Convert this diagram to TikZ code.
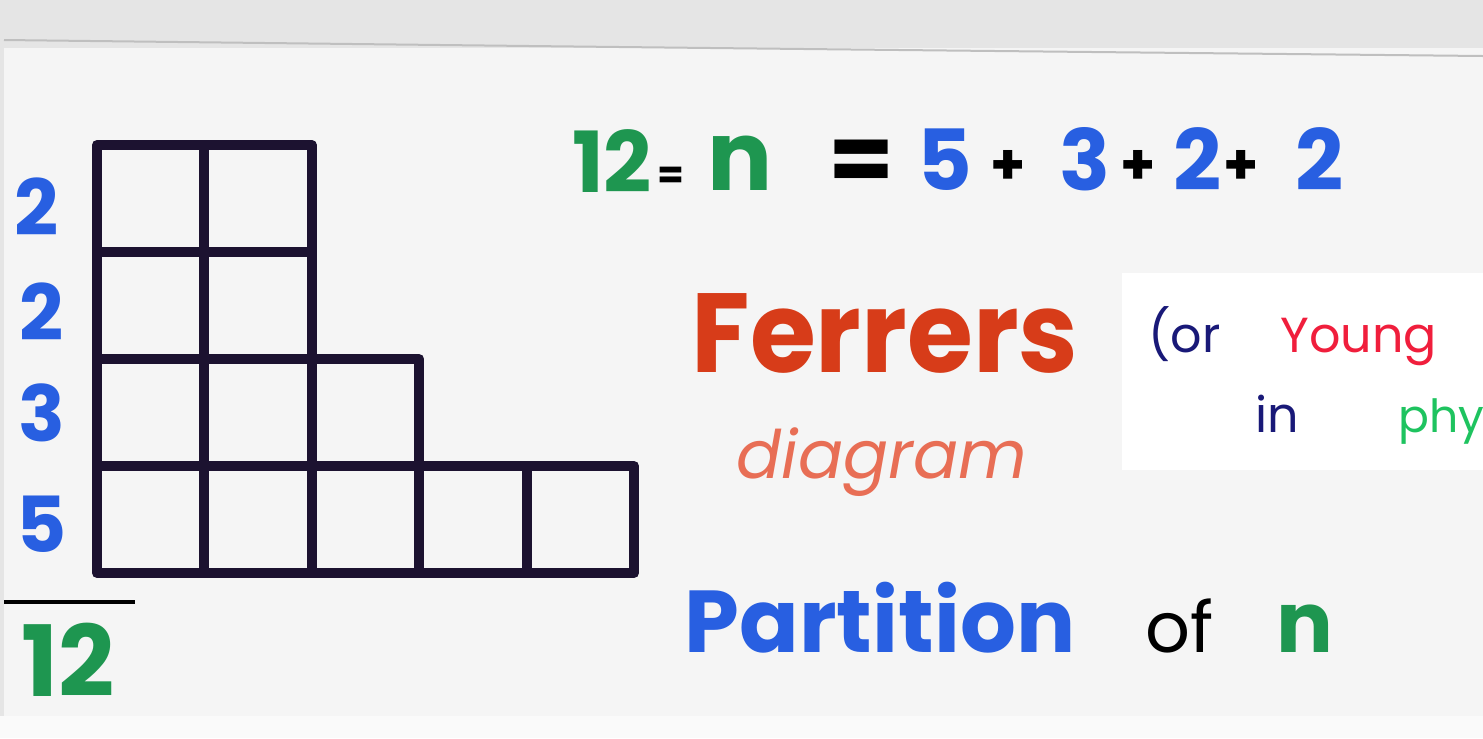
\documentclass[tikz,border=0pt]{standalone}
\usepackage{fontspec}
\setmainfont{Poppins}
\usepackage{xcolor}
\usepackage{tikz}

\definecolor{mgreen}{RGB}{30,150,80}
\definecolor{mblue}{RGB}{40,95,225}
\definecolor{mred}{RGB}{215,60,25}
\definecolor{msalmon}{RGB}{232,110,85}
\definecolor{mnavy}{RGB}{25,25,120}
\definecolor{mpink}{RGB}{240,30,60}
\definecolor{mlime}{RGB}{30,195,95}
\definecolor{mink}{RGB}{28,18,48}

\begin{document}
\begin{tikzpicture}[x=0.2mm, y=-0.2mm,
  cell/.style={draw=mink, line width=2mm, line cap=round, line join=round},
  count/.style={font=\fontsize{44}{44}\selectfont\bfseries, text=mblue, inner sep=0pt},
  big/.style={font=\fontsize{48}{48}\selectfont\bfseries, inner sep=0pt, anchor=base},
  plus/.style={font=\fontsize{32}{32}\selectfont\bfseries, text=black, inner sep=0pt, anchor=base},
  thin/.style={font=\fontsize{28}{28}\selectfont, inner sep=0pt, anchor=base west}
]
\useasboundingbox (0,0) rectangle (1483,738);
\fill[gray!20] (0,0) rectangle (1483,738);
\fill[gray!8] (4,48) rectangle (1483,716);
\fill[gray!4] (0,716) rectangle (1483,738);
\draw[gray!50, line width=0.4mm] (4,40) .. controls (700,48) .. (1483,56);
\fill[white] (1122,273) rectangle (1483,470);

% the Ferrers grid, one row per part
\foreach \r/\len in {0/5,1/3,2/2,3/2}
  \foreach \c in {1,...,\len}
    \draw[cell] ({97+(\c-1)*107.4},{573-\r*107}) rectangle ++(107.4,-107);

\node[count] (p4) at (37,207) {2};
\node[count] (p3) at (42,312) {2};
\node[count] (p2) at (42,413) {3};
\node[count] (p1) at (42,524) {5};
\coordinate (bar-l) at (4,602);
\coordinate (bar-r) at (135,602);
\draw[black, line width=0.8mm] (bar-l) -- (bar-r);
\node[count, text=mgreen, font=\fontsize{56}{56}\selectfont\bfseries] (total) at (68,660) {12};

\node[big, text=mgreen] (eq12) at (612,192) {12};
\node[big, text=black, font=\fontsize{22}{22}\selectfont\bfseries] (eqa) at (671,188) {=};
\node[big, text=mgreen, font=\fontsize{55}{55}\selectfont\bfseries] (eqn) at (740,190) {n};
\node[big, text=black, font=\fontsize{54}{54}\selectfont\bfseries] (eqb) at (862,192) {=};
\node[big, text=mblue] (eq5) at (945,190) {5};
\node[plus] (pa) at (1008,184) {+};
\node[big, text=mblue] (eq3) at (1085,190) {3};
\node[plus] (pb) at (1138,184) {+};
\node[big, text=mblue] (eq2a) at (1198,190) {2};
\node[plus] (pc) at (1241,184) {+};
\node[big, text=mblue] (eq2b) at (1320,190) {2};

\node[big, text=mred, font=\fontsize{64}{64}\selectfont\bfseries, xscale=0.95] (ferrers) at (885,372) {Ferrers};
\node[big, text=msalmon, font=\fontsize{38}{38}\selectfont\itshape] (diagram) at (882,478) {diagram};

\node[thin, text=mnavy] (or) at (1148,352) {(or};
\node[thin, text=mpink] (young) at (1280,352) {Young};
\node[thin, text=mnavy] (in) at (1255,432) {in};
\node[thin, text=mlime, font=\fontsize{26}{26}\selectfont] (phy) at (1398,432) {phy};

\node[big, text=mblue, font=\fontsize{50}{50}\selectfont\bfseries] (partition) at (880,652) {Partition};
\node[big, text=black, font=\fontsize{40}{40}\selectfont] (of) at (1180,652) {of};
\node[big, text=mgreen, font=\fontsize{48}{48}\selectfont\bfseries] (pn) at (1305,652) {n};
\end{tikzpicture}
\end{document}
